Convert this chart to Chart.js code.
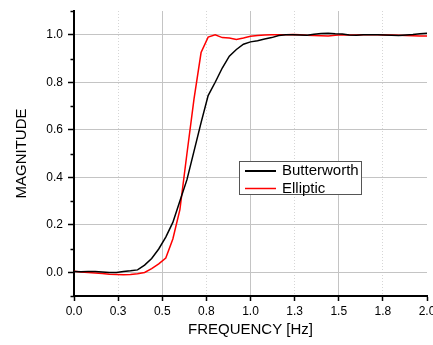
<!DOCTYPE html>
<html>
<head>
<meta charset="utf-8">
<script src="https://cdn.jsdelivr.net/npm/chart.js@4/dist/chart.umd.min.js"></script>
<style>
  html, body { margin: 0; padding: 0; background: #fff; }
  #wrap { width: 433px; height: 345px; }
</style>
</head>
<body>
<div id="wrap"><canvas id="c" width="433" height="345"></canvas></div>
<script>
// ---- data ----
const freq = [0.00,0.04,0.08,0.12,0.16,0.20,0.24,0.28,0.32,0.36,0.40,0.44,0.48,0.52,0.56,0.60,0.64,0.68,0.72,0.76,
              0.80,0.84,0.88,0.92,0.96,1.00,1.04,1.08,1.12,1.16,1.20,1.24,1.28,1.32,1.36,1.40,1.44,1.48,1.52,1.56,
              1.60,1.64,1.68,1.72,1.76,1.80,1.84,1.88,1.92,1.96,2.00];
const butterworth = [0.003,0.002,0.003,0.003,0.001,-0.001,-0.001,0.003,0.006,0.010,0.030,0.058,0.098,0.148,0.210,0.300,0.390,0.510,0.630,0.744,
                     0.800,0.860,0.910,0.938,0.960,0.970,0.975,0.982,0.988,0.997,1.000,1.000,0.999,0.998,1.002,1.005,1.006,1.004,1.003,0.999,
                     0.998,1.000,1.000,1.000,0.999,0.998,0.997,0.999,1.001,1.004,1.006];
const elliptic = [0.004,0.001,-0.001,-0.003,-0.005,-0.008,-0.009,-0.010,-0.009,-0.006,-0.001,0.015,0.035,0.060,0.140,0.264,0.500,0.730,0.925,0.990,
                  1.000,0.988,0.986,0.980,0.986,0.994,0.997,0.999,1.000,1.000,1.000,1.001,1.000,0.998,0.997,0.996,0.995,0.998,1.000,0.999,
                  0.999,1.000,1.000,1.000,0.999,0.999,0.998,0.997,0.996,0.995,0.995];
const seriesNames = ['Butterworth', 'Elliptic'];
const seriesColors = ['#000000', '#ff0000'];
const xTickValues = [0, 0.25, 0.5, 0.75, 1.0, 1.25, 1.5, 1.75, 2.0];
const xTickLabels = ['0.0','0.3','0.5','0.8','1.0','1.3','1.5','1.8','2.0'];
const yTickValues = [0, 0.2, 0.4, 0.6, 0.8, 1.0];
const yTickLabels = ['0.0','0.2','0.4','0.6','0.8','1.0'];
const xTitle = 'FREQUENCY [Hz]';
const yTitle = 'MAGNITUDE';

const FONT = "'Liberation Sans', Arial, sans-serif";

function pts(ys) { return freq.map((f, i) => ({ x: f, y: ys[i] })); }
function yIndex(v) { return Math.round(v * 10); }
function isMajorY(v) { const k = yIndex(v); return k >= 0 && k <= 10 && k % 2 === 0; }
function xIdx(v) { return xTickValues.findIndex(t => Math.abs(t - v) < 1e-6); }

const minorTicks = {
  id: 'minorTicks',
  afterDraw(chart) {
    const ctx = chart.ctx, y = chart.scales.y, left = chart.chartArea.left;
    ctx.save();
    ctx.strokeStyle = '#000'; ctx.lineWidth = 1.5;
    for (let k = -1; k <= 11; k += 2) {
      const py = Math.round(y.getPixelForValue(k / 10)) + 0.5;
      ctx.beginPath(); ctx.moveTo(left - 3.5, py); ctx.lineTo(left, py); ctx.stroke();
    }
    ctx.restore();
  }
};

const boxLegend = {
  id: 'boxLegend',
  afterDraw(chart) {
    const ctx = chart.ctx;
    const bx = 239.5, by = 161.5, bw = 122, bh = 33;
    ctx.save();
    ctx.fillStyle = '#fff';
    ctx.fillRect(bx, by, bw, bh);
    ctx.strokeStyle = '#555'; ctx.lineWidth = 1;
    ctx.strokeRect(bx, by, bw, bh);
    const rows = [171, 188.5];
    chart.data.datasets.forEach((ds, i) => {
      ctx.strokeStyle = ds.borderColor;
      ctx.lineWidth = i === 0 ? 2 : 1.5;
      ctx.beginPath(); ctx.moveTo(245, rows[i]); ctx.lineTo(276, rows[i]); ctx.stroke();
      ctx.fillStyle = '#000';
      ctx.font = '15px ' + FONT;
      ctx.textBaseline = 'middle';
      ctx.textAlign = 'left';
      ctx.fillText(ds.label, 282, rows[i]);
    });
    ctx.restore();
  }
};

new Chart(document.getElementById('c'), {
  type: 'line',
  data: {
    datasets: [
      { label: seriesNames[0], data: pts(butterworth), borderColor: seriesColors[0], borderWidth: 1.5, pointRadius: 0, tension: 0, fill: false },
      { label: seriesNames[1], data: pts(elliptic), borderColor: seriesColors[1], borderWidth: 1.5, pointRadius: 0, tension: 0, fill: false }
    ]
  },
  options: {
    responsive: false,
    animation: false,
    devicePixelRatio: 1,
    layout: { padding: { top: 11, right: 6, left: 0, bottom: 0 } },
    plugins: { legend: { display: false }, tooltip: { enabled: false } },
    scales: {
      x: {
        type: 'linear', min: 0, max: 2,
        afterBuildTicks(s) { s.ticks = xTickValues.map(v => ({ value: v })); },
        afterFit(s) { s.height = 49; s.paddingLeft = 0; s.paddingRight = 0; },
        ticks: {
          autoSkip: false, maxRotation: 0, padding: 3, color: '#000',
          font: { family: FONT, size: 12 },
          callback(v) { const i = xIdx(v); return i >= 0 ? xTickLabels[i] : ''; }
        },
        grid: {
          drawTicks: true, tickLength: 5, tickColor: '#000', tickWidth: 1.5,
          lineWidth: 1,
          color(ctx) {
            const v = ctx.tick ? ctx.tick.value : null;
            if (v === null || v <= 0 || v >= 2) return 'rgba(0,0,0,0)';
            return (Math.round(v * 4) % 2 === 0) ? '#c4c4c4' : '#d6d6d6';
          }
        },
        border: {
          display: true, color: '#000', width: 2,
          dash(ctx) {
            const v = ctx.tick ? ctx.tick.value : null;
            if (v === null) return [];
            return (Math.round(v * 4) % 2 === 0) ? [] : [1, 2];
          }
        },
        title: { display: true, text: xTitle, color: '#000', font: { family: FONT, size: 15 }, padding: { top: 0, bottom: 6 } }
      },
      y: {
        type: 'linear', min: -0.1, max: 1.1,
        afterBuildTicks(s) {
          const t = [];
          for (let k = -1; k <= 11; k++) t.push({ value: k / 10 });
          s.ticks = t;
        },
        afterFit(s) { s.width = 74; s.paddingTop = 0; s.paddingBottom = 0; },
        ticks: {
          autoSkip: false, padding: 5, color: '#000',
          font: { family: FONT, size: 12 },
          callback(v) {
            if (!isMajorY(v)) return '';
            return yTickLabels[yIndex(v) / 2];
          }
        },
        grid: {
          drawTicks: true, tickLength: 6, tickWidth: 1.5,
          tickColor(ctx) { return ctx.tick && isMajorY(ctx.tick.value) ? '#000' : 'rgba(0,0,0,0)'; },
          lineWidth: 1,
          color(ctx) { return ctx.tick && isMajorY(ctx.tick.value) ? '#c4c4c4' : 'rgba(0,0,0,0)'; }
        },
        border: { display: true, color: '#000', width: 2 },
        title: { display: true, text: yTitle, color: '#000', font: { family: FONT, size: 15 }, padding: { top: 13, bottom: 0 } }
      }
    }
  },
  plugins: [minorTicks, boxLegend]
});
</script>
</body>
</html>
